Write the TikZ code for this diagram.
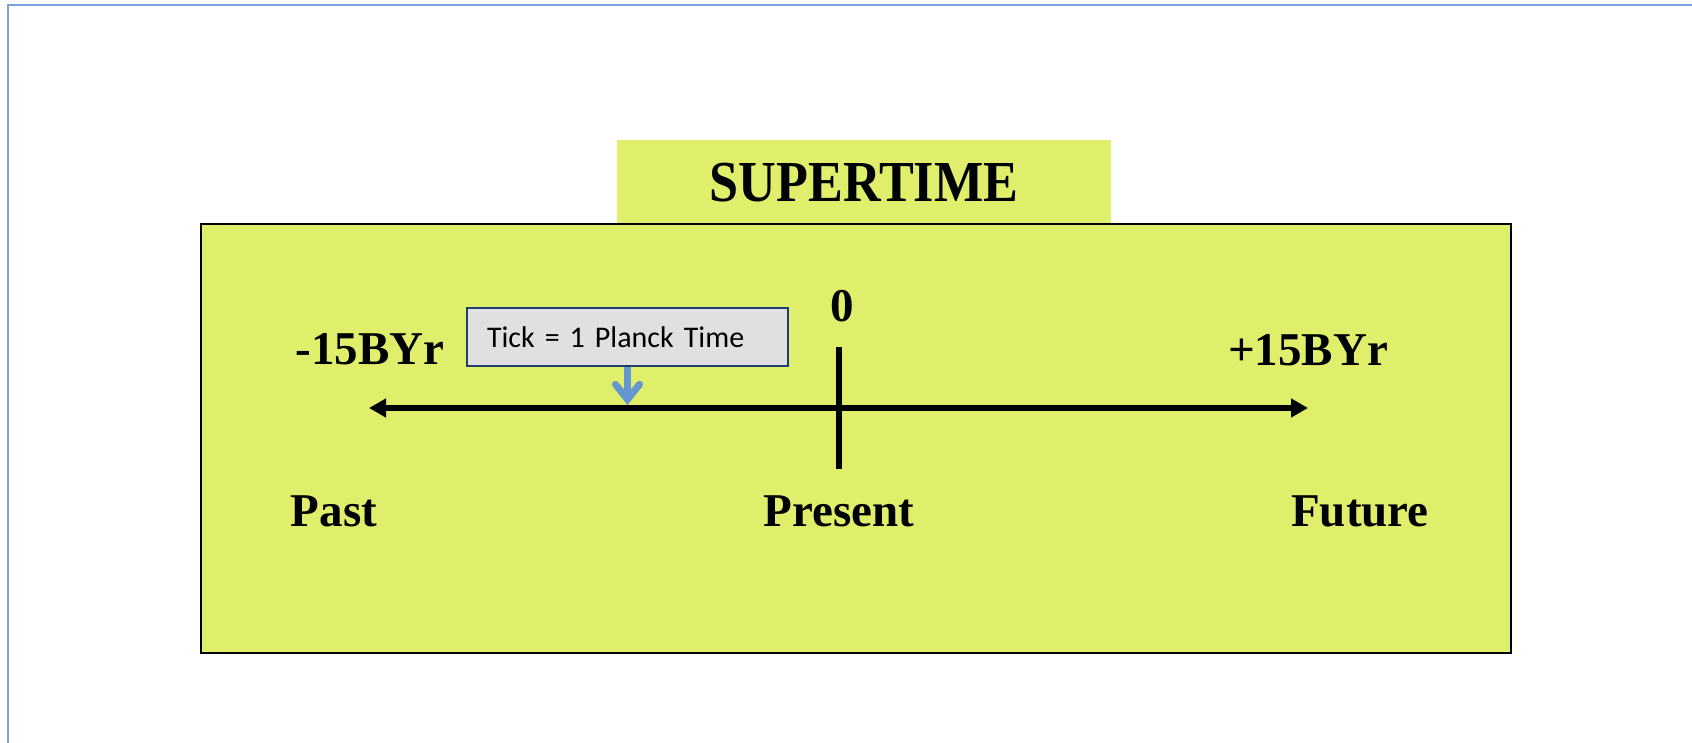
\documentclass[tikz,border=0pt]{standalone}
\usepackage{fontspec}
\setmainfont{Liberation Serif}
\newfontfamily\calibrifont{Carlito}
\usetikzlibrary{arrows.meta}

\definecolor{panelgreen}{HTML}{E0EF6B}
\definecolor{frameblue}{HTML}{7BA3D9}
\definecolor{calloutgray}{HTML}{E0E0E0}
\definecolor{calloutedge}{HTML}{1F3F73}
\definecolor{pointerblue}{HTML}{6497D0}

\begin{document}
\begin{tikzpicture}[
    x=1pt,y=-1pt,
    bigtext/.style={
      font=\bfseries\fontsize{47}{56}\selectfont,
      anchor=base,inner sep=0pt
    },
    titletext/.style={
      font=\bfseries\fontsize{58}{68}\selectfont,
      anchor=base,inner sep=0pt,xscale=0.9,transform shape
    },
    panel/.style={fill=panelgreen,draw=black,line width=2pt},
    tickbox/.style={
      rectangle,draw=calloutedge,fill=calloutgray,line width=1.3pt,
      minimum width=321pt,minimum height=58pt,
      text width=281pt,align=left,inner xsep=20pt,
      font=\calibrifont\fontsize{30}{36}\selectfont
    },
    axisline/.style={line width=6pt,{Triangle[length=17pt,width=18pt]}-{Triangle[length=17pt,width=18pt]}},
    tickmark/.style={line width=6pt},
    pointer/.style={draw=pointerblue,line width=7pt,
      -{Straight Barb[length=15pt,width=24pt,line cap=round]}}
  ]
  \useasboundingbox (0,0) rectangle (1692,743);

  % page frame
  \draw[frameblue,line width=2pt] (8,743) -- (8,5) -- (1692,5);

  % title tab and panel
  \fill[panelgreen] (617,140) rectangle (1111,226);
  \draw[panel] (201,224) rectangle (1511,653);
  \node[titletext] (title) at (864,202) {SUPERTIME};

  % time axis
  \coordinate (pastend) at (369,408);
  \coordinate (futureend) at (1308,408);
  \coordinate (ticktop) at (839,347);
  \coordinate (tickbottom) at (839,469);
  \draw[axisline] (pastend) -- (futureend);
  \draw[tickmark] (ticktop) -- (tickbottom);

  % labels
  \node[bigtext] (zero) at (842,321) {0};
  \node[bigtext] (minus) at (370,364) {-15BYr};
  \node[bigtext] (plus) at (1308,365) {+15BYr};
  \node[bigtext] (past) at (334,526) {Past};
  \node[bigtext] (present) at (839,526) {Present};
  \node[bigtext] (future) at (1360,526) {Future};

  % callout
  \node[tickbox] (planck) at (627.5,337) {Tick = 1 Planck Time};
  \coordinate (tickpoint) at (627.5,405);
  \draw[pointer] (planck.south) -- (tickpoint);
\end{tikzpicture}
\end{document}
